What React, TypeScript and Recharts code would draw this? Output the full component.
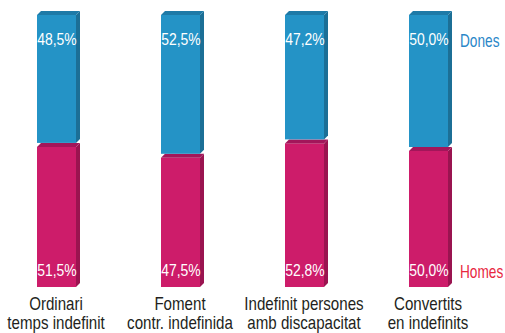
import { BarChart, Bar, XAxis, YAxis, LabelList } from 'recharts'

const CATEGORIES = [
  'Ordinari\ntemps indefinit',
  'Foment\ncontr. indefinida',
  'Indefinit persones\namb discapacitat',
  'Convertits\nen indefinits',
]
const HOMES = [51.5, 47.5, 52.8, 50.0]
const DONES = [48.5, 52.5, 47.2, 50.0]

// no condensed font installed, so squeeze Liberation Sans horizontally
const FONT = "'Liberation Sans', Arial, sans-serif"
const SQUEEZE = 0.82
const DEPTH = 4

const BLUE = { front: '#2493c6', side: '#1c6f96', top: '#1e7aa7', legend: '#2a87c8' }
const PINK = { front: '#cd1c6a', side: '#9a1450', top: '#a2165a', legend: '#e8283f' }

const data = CATEGORIES.map((name, i) => ({ name, homes: HOMES[i], dones: DONES[i] }))

const pct = (v: number) => v.toFixed(1).replace('.', ',') + '%'

function NarrowText({ x, y, anchor = 'middle', size, color, sx = SQUEEZE, children }: any) {
  return (
    <text
      transform={`translate(${x},${y}) scale(${sx},1)`}
      x={0}
      y={0}
      textAnchor={anchor}
      dominantBaseline="central"
      fill={color}
      fontSize={size}
      fontFamily={FONT}
    >
      {children}
    </text>
  )
}

function boxShape(c: typeof BLUE, trimBottom: boolean) {
  return (props: any) => {
    const { x, y, width: w, height } = props
    const h = trimBottom ? height - DEPTH : height
    const d = DEPTH
    return (
      <g>
        <rect x={x} y={y} width={w} height={h} fill={c.front} />
        <polygon
          points={`${x + w},${y} ${x + w + d},${y - d} ${x + w + d},${y + h - d} ${x + w},${y + h}`}
          fill={c.side}
        />
        <polygon
          points={`${x},${y} ${x + d},${y - d} ${x + w + d},${y - d} ${x + w},${y}`}
          fill={c.top}
        />
      </g>
    )
  }
}

function valueLabel(series: string, c: typeof BLUE, atTop: boolean) {
  return (props: any) => {
    const { x, y, width: w, height: h, value, index } = props
    const ty = atTop ? y + 24 : y + h - 17
    return (
      <g>
        <NarrowText x={x + w / 2 + 0.5} y={ty} size={17} color="#fff">
          {pct(value)}
        </NarrowText>
        {index === CATEGORIES.length - 1 && (
          <NarrowText x={x + w + 12} y={ty + 2} anchor="start" size={18} sx={0.76} color={c.legend}>
            {series}
          </NarrowText>
        )}
      </g>
    )
  }
}

function CategoryTick(props: any) {
  const { x, y, payload } = props
  const lines = String(payload.value).split('\n')
  return (
    <text
      transform={`translate(${x},${y}) scale(0.84,1)`}
      textAnchor="middle"
      fill="#231f20"
      fontSize={18}
      fontFamily={FONT}
    >
      {lines.map((l, i) => (
        <tspan key={i} x={0} y={i === 0 ? 15 : 34}>
          {l}
        </tspan>
      ))}
    </text>
  )
}

export default function App() {
  return (
    <div style={{ position: 'absolute', left: 0, top: 0, background: '#fff' }}>
      <BarChart
        width={505}
        height={333}
        data={data}
        margin={{ top: 15, right: 15, left: -6, bottom: 0 }}
        barSize={39}
      >
        <XAxis
          dataKey="name"
          axisLine={false}
          tickLine={false}
          height={46}
          interval={0}
          tick={<CategoryTick />}
        />
        <YAxis hide domain={[0, 100]} />
        <Bar dataKey="homes" stackId="a" isAnimationActive={false} shape={boxShape(PINK, false)}>
          <LabelList dataKey="homes" content={valueLabel('Homes', PINK, false)} />
        </Bar>
        <Bar dataKey="dones" stackId="a" isAnimationActive={false} shape={boxShape(BLUE, true)}>
          <LabelList dataKey="dones" content={valueLabel('Dones', BLUE, true)} />
        </Bar>
      </BarChart>
    </div>
  )
}
